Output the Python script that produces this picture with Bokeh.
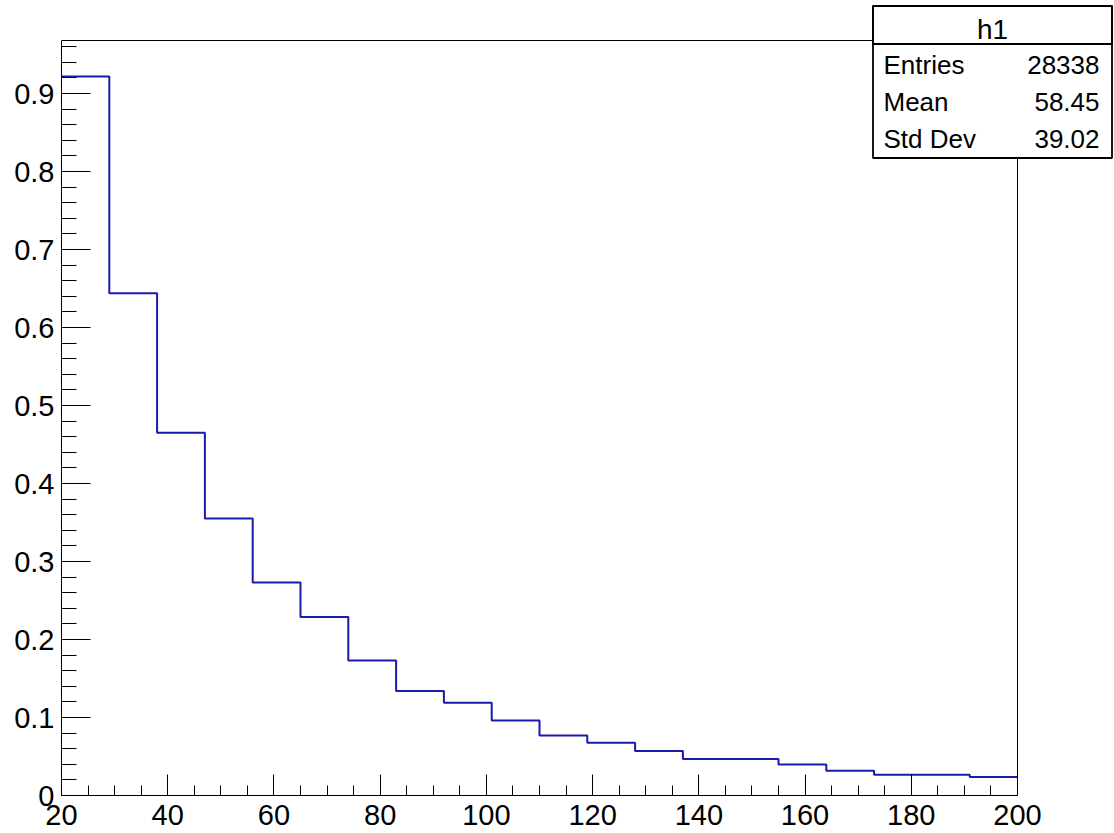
from bokeh.plotting import figure
from bokeh.models import FixedTicker, Range1d, BoxAnnotation, Label, BasicTickFormatter
from bokeh.embed import file_html
from bokeh.resources import INLINE

# ---- data ----
bin_edges = [20, 29, 38, 47, 56, 65, 74, 83, 92, 101, 110,
             119, 128, 137, 146, 155, 164, 173, 182, 191, 200]
bin_values = [0.922, 0.644, 0.465, 0.355, 0.273, 0.229, 0.173, 0.134, 0.119, 0.096,
              0.077, 0.0675, 0.0572, 0.0468, 0.0468, 0.0397, 0.0318, 0.0266, 0.0266, 0.0236]
x_tick_values = [20, 40, 60, 80, 100, 120, 140, 160, 180, 200]
y_tick_values = [0, 0.1, 0.2, 0.3, 0.4, 0.5, 0.6, 0.7, 0.8, 0.9]
y_tick_labels = ["0", "0.1", "0.2", "0.3", "0.4", "0.5", "0.6", "0.7", "0.8", "0.9"]
stats_title = "h1"
stats_names = ["Entries", "Mean", "Std Dev"]
stats_values = ["28338", "58.45", "39.02"]

# axis limits of the histogram frame
X_MIN, X_MAX = 20, 200
Y_MIN, Y_MAX = 0, 0.968

FONT = "Liberation Sans"
LINE_COLOR = "#1a1aab"

# pixel geometry
W, H = 1114, 833
FRAME_L, FRAME_R, FRAME_T, FRAME_B = 61, 1017, 40, 795   # histogram frame
CANVAS_T, CANVAS_R = 3, 1113                              # bokeh frame incl. stats box
px_x = (FRAME_R - FRAME_L) / (X_MAX - X_MIN)
px_y = (FRAME_B - FRAME_T) / (Y_MAX - Y_MIN)
x_end = X_MIN + (CANVAS_R - FRAME_L) / px_x
y_end = Y_MIN + (FRAME_B - CANVAS_T) / px_y

p = figure(width=W, height=H, output_backend="svg", toolbar_location=None,
           x_range=Range1d(X_MIN, x_end), y_range=Range1d(Y_MIN, y_end),
           min_border_left=FRAME_L, min_border_right=W - CANVAS_R,
           min_border_top=CANVAS_T, min_border_bottom=H - FRAME_B)
p.xgrid.visible = False
p.ygrid.visible = False
p.outline_line_color = None
p.background_fill_color = "white"
p.border_fill_color = "white"

# top and right edges of the histogram frame
p.segment(x0=[X_MIN, X_MAX], y0=[Y_MAX, Y_MIN], x1=[X_MAX, X_MAX], y1=[Y_MAX, Y_MAX],
          line_color="black", line_width=1)

step_y = bin_values + [bin_values[-1]]
p.step(bin_edges, step_y, mode="after", line_color=LINE_COLOR, line_width=2)

xa = p.xaxis[0]
xa.bounds = (X_MIN, X_MAX)
xa.ticker = FixedTicker(ticks=x_tick_values, minor_ticks=[20 + 5 * i for i in range(37)])
xa.formatter = BasicTickFormatter()
xa.major_tick_in = 21
xa.major_tick_out = 0
xa.minor_tick_in = 10
xa.minor_tick_out = 0
xa.major_label_standoff = 9

ya = p.yaxis[0]
ya.bounds = (Y_MIN, Y_MAX)
ya.ticker = FixedTicker(ticks=y_tick_values, minor_ticks=[0.02 * i for i in range(49)])
ya.major_label_overrides = dict(zip(y_tick_values, y_tick_labels))
ya.major_tick_in = 29
ya.major_tick_out = 0
ya.minor_tick_in = 15
ya.minor_tick_out = 0
ya.major_label_standoff = 7

for ax in (xa, ya):
    ax.axis_line_color = "black"
    ax.axis_line_width = 1
    ax.major_tick_line_color = "black"
    ax.minor_tick_line_color = "black"
    ax.major_tick_line_width = 1
    ax.minor_tick_line_width = 1
    ax.major_label_text_font = FONT
    ax.major_label_text_font_size = "29px"
    ax.major_label_text_color = "black"

# ---- statistics box (canvas pixel units, y from top) ----
BOX_L, BOX_R, BOX_T, BOX_B, BOX_SEP = 872.5, 1111.5, 5.5, 157.5, 43.5
common = dict(left_units="canvas", right_units="canvas",
              top_units="canvas", bottom_units="canvas",
              line_color="black", line_width=1.8, line_alpha=1, level="annotation")
p.add_layout(BoxAnnotation(left=BOX_L, right=BOX_R, top=BOX_T, bottom=BOX_B,
                           fill_color="white", fill_alpha=1, **common))
p.add_layout(BoxAnnotation(left=BOX_L, right=BOX_R, top=BOX_T, bottom=BOX_SEP,
                           fill_alpha=0, **common))

p.add_layout(Label(x=(BOX_L + BOX_R) / 2, y=29, x_units="canvas", y_units="canvas",
                   text=stats_title, text_font=FONT, text_font_size="28px",
                   text_align="center", text_baseline="alphabetic", text_color="black",
                   level="overlay"))
row_base = [64, 101, 138]
for name, val, yy in zip(stats_names, stats_values, row_base):
    p.add_layout(Label(x=883, y=yy, x_units="canvas", y_units="canvas", text=name,
                       text_font=FONT, text_font_size="26px", text_align="left",
                       text_baseline="alphabetic", text_color="black", level="overlay"))
    p.add_layout(Label(x=1099, y=yy, x_units="canvas", y_units="canvas", text=val,
                       text_font=FONT, text_font_size="26px", text_align="right",
                       text_baseline="alphabetic", text_color="black", level="overlay"))

open("out.html", "w").write(file_html(p, INLINE))
